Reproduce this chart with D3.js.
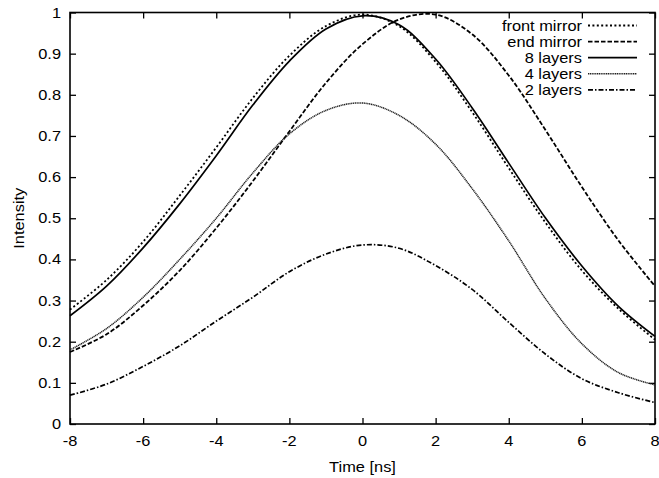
<!DOCTYPE html>
<html><head><meta charset="utf-8">
<script src="https://cdn.jsdelivr.net/npm/d3@7"></script>
<style>
html,body{margin:0;padding:0;background:#fff;}
svg text{font-family:"Liberation Sans",Arial,Helvetica,sans-serif;fill:#000;}
</style></head>
<body>
<svg id="chart" width="659" height="478"></svg>
<script>
const times = [-8,-7,-6,-5,-4,-3,-2,-1,0,1,2,3,4,5,6,7,8];
const frontMirror = [0.278,0.350,0.443,0.555,0.672,0.792,0.895,0.967,0.995,0.967,0.880,0.758,0.622,0.490,0.373,0.280,0.205];
const endMirror   = [0.175,0.218,0.288,0.373,0.476,0.590,0.711,0.829,0.923,0.983,0.995,0.947,0.847,0.715,0.576,0.446,0.335];
const layers8     = [0.263,0.335,0.428,0.535,0.652,0.775,0.882,0.960,0.992,0.970,0.887,0.768,0.634,0.501,0.384,0.286,0.213];
const layers4     = [0.180,0.232,0.308,0.400,0.500,0.610,0.705,0.762,0.780,0.750,0.680,0.572,0.445,0.305,0.195,0.125,0.095];
const layers2     = [0.070,0.097,0.140,0.190,0.250,0.308,0.370,0.413,0.435,0.427,0.385,0.327,0.247,0.170,0.110,0.076,0.052];
const seriesNames = ["front mirror","end mirror","8 layers","4 layers","2 layers"];
const xTicks = [-8,-6,-4,-2,0,2,4,6,8];
const yTicks = [0,0.1,0.2,0.3,0.4,0.5,0.6,0.7,0.8,0.9,1];
const xLabel = "Time [ns]";
const yLabel = "Intensity";

const seriesValues = [frontMirror, endMirror, layers8, layers4, layers2];
const styles = [
  {dash:"2,2.4", width:1.8, color:"#000"},
  {dash:"4.5,2", width:1.8, color:"#000"},
  {dash:null, width:1.7, color:"#000"},
  {dash:"1.2,0.6", width:1.5, color:"#222"},
  {dash:"5,2,1.5,2", width:1.7, color:"#000"}
];

const L=70, R=655, T=12.5, B=424;
const svg = d3.select("#chart");
const x = d3.scaleLinear().domain([-8,8]).range([L,R]);
const y = d3.scaleLinear().domain([0,1]).range([B,T]);
const fs = 14.5, sx = 1.13;

function txt(g, px, py, s, anchor, rot){
  const t = g.append("text").attr("font-size",fs).attr("text-anchor",anchor||"start")
    .attr("transform",`translate(${px},${py})`+(rot?` rotate(${rot})`:"")+` scale(${sx},1)`)
    .text(s);
  return t;
}

// axes with inward ticks on all sides
const tk = 6;
const axB = svg.append("g").attr("transform",`translate(0,${B})`)
  .call(d3.axisBottom(x).tickValues(xTicks).tickSize(-tk).tickFormat(""));
const axT = svg.append("g").attr("transform",`translate(0,${T})`)
  .call(d3.axisTop(x).tickValues(xTicks).tickSize(-tk).tickFormat(""));
const axL = svg.append("g").attr("transform",`translate(${L},0)`)
  .call(d3.axisLeft(y).tickValues(yTicks).tickSize(-tk).tickFormat(""));
const axR = svg.append("g").attr("transform",`translate(${R},0)`)
  .call(d3.axisRight(y).tickValues(yTicks).tickSize(-tk).tickFormat(""));
[axB,axT,axL,axR].forEach(a=>{
  a.select(".domain").remove();
  a.selectAll(".tick line").attr("stroke","#000").attr("stroke-width",1.3);
});
// frame
svg.append("rect").attr("x",L).attr("y",T).attr("width",R-L).attr("height",B-T)
  .attr("fill","none").attr("stroke","#000").attr("stroke-width",1.6);

// tick labels
const lab = svg.append("g");
xTicks.forEach(v=>txt(lab, x(v), 446, String(v), "middle"));
yTicks.forEach(v=>txt(lab, 61, y(v)+5, String(v), "end"));
txt(lab, (L+R)/2, 472, xLabel, "middle");
txt(lab, 24, (T+B)/2, yLabel, "middle", -90);

// curves
const line = d3.line().x((d,i)=>x(times[i])).y(d=>y(d)).curve(d3.curveCatmullRom.alpha(0.5));
const plot = svg.append("g");
seriesValues.forEach((vals,k)=>{
  const st = styles[k];
  const p = plot.append("path").datum(vals).attr("d",line)
    .attr("fill","none").attr("stroke",st.color).attr("stroke-width",st.width);
  if(st.dash) p.attr("stroke-dasharray",st.dash);
});

// legend
const leg = svg.append("g");
seriesNames.forEach((n,k)=>{
  const yy = 25.5 + k*16.1;
  txt(leg, 582, yy+5, n, "end");
  const st = styles[k];
  const l = leg.append("line").attr("x1",588).attr("x2",637).attr("y1",yy).attr("y2",yy)
    .attr("stroke",st.color).attr("stroke-width",st.width);
  if(st.dash) l.attr("stroke-dasharray",st.dash);
});
</script>
</body></html>
